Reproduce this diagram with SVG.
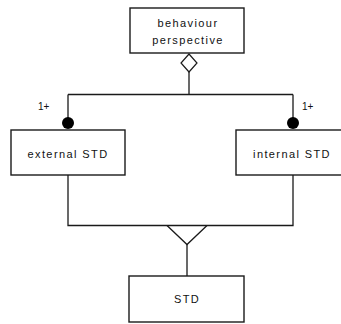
<svg xmlns="http://www.w3.org/2000/svg" width="341" height="324" viewBox="0 0 341 324">
  <style>
    .box { fill: #ffffff; stroke: #1a1a1a; stroke-width: 1.4; }
    .line { fill: none; stroke: #1a1a1a; stroke-width: 1.3; }
    .lbl { font-family: "Liberation Sans", Arial, sans-serif; font-size: 11px; letter-spacing: 1.4px; fill: #111; text-anchor: middle; }
    .mult { font-family: "Liberation Sans", Arial, sans-serif; font-size: 10px; fill: #111; }
  </style>
  <rect width="341" height="324" fill="#ffffff"/>

  <g id="connectors">
    <!-- aggregation from behaviour perspective -->
    <path class="line" d="M189 72 V94.5 M68 94.5 H293 M68 94.5 V118 M293 94.5 V118"/>
    <polygon points="189,54 197,63 189,72 181,63" fill="#ffffff" stroke="#1a1a1a" stroke-width="1.2"/>
    <circle cx="68" cy="123" r="6" fill="#000"/>
    <circle cx="293" cy="123" r="6" fill="#000"/>
    <text class="mult" x="38" y="110">1+</text>
    <text class="mult" x="302" y="110">1+</text>
    <!-- generalisation to STD -->
    <path class="line" d="M68 175 V225.5 H293 V175 M187 244 V276"/>
    <polyline class="line" points="167,225.5 187,244.5 207,225.5"/>
  </g>

  <g id="behaviour-perspective">
    <rect class="box" x="130" y="8" width="114" height="45"/>
    <text class="lbl" x="188" y="27">behaviour</text>
    <text class="lbl" x="188" y="44">perspective</text>
  </g>

  <g id="external-std">
    <rect class="box" x="11" y="130" width="114" height="45"/>
    <text class="lbl" x="68" y="158">external STD</text>
  </g>

  <g id="internal-std">
    <rect class="box" x="236" y="130" width="114" height="45"/>
    <text class="lbl" x="292" y="158">internal STD</text>
  </g>

  <g id="std">
    <rect class="box" x="129" y="276" width="115" height="46"/>
    <text class="lbl" x="187" y="303">STD</text>
  </g>
</svg>
